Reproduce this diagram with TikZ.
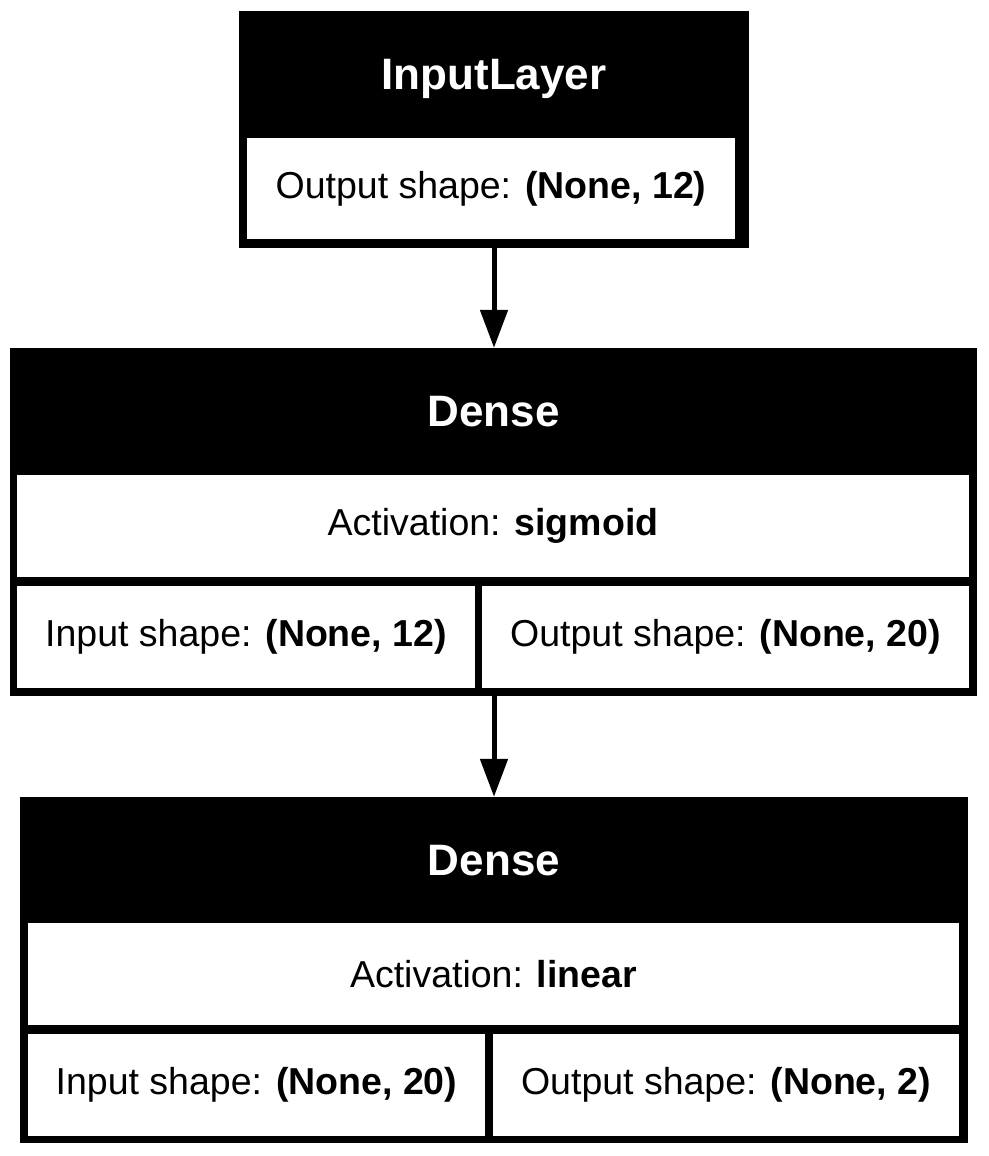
\documentclass[tikz,border=0pt]{standalone}
\usepackage{fontspec}
\setmainfont{Liberation Sans}
\usetikzlibrary{arrows.meta}
\newcommand{\bodysize}{\fontsize{37.5}{45}\selectfont}
\newcommand{\headsize}{\fontsize{44}{52}\selectfont}

\begin{document}
\begin{tikzpicture}[x=1pt, y=-1pt,
    layer/.style={fill=black, inner sep=0pt},
    head/.style={text=white, font=\headsize\bfseries, inner sep=0pt, text depth=0pt},
    cell/.style={fill=white, inner sep=0pt, font=\bodysize},
    flow/.style={-{Triangle[length=38pt, width=27pt]}, line width=5pt}]
    \useasboundingbox (0,0) rectangle (988,1156);

    % InputLayer
    \node[layer, minimum width=510pt, minimum height=237pt] (inp) at (494,129.5) {};
    \node[head] (inphead) at (494,74.5) {InputLayer};
    \node[cell, minimum width=488pt, minimum height=101pt] (inpout) at (491,188.5) {Output shape: \textbf{(None, 12)}};

    % First dense layer
    \node[layer, minimum width=967pt, minimum height=348pt] (dense1) at (493.5,522) {};
    \node[head] (dense1head) at (493.5,411.5) {Dense};
    \node[cell, minimum width=952pt, minimum height=102pt] (dense1act) at (493,526) {Activation: \textbf{sigmoid}};
    \node[cell, minimum width=458pt, minimum height=102pt] (dense1in) at (246,637) {Input shape: \textbf{(None, 12)}};
    \node[cell, minimum width=487pt, minimum height=102pt] (dense1out) at (725.5,637) {Output shape: \textbf{(None, 20)}};

    % Second dense layer
    \node[layer, minimum width=948pt, minimum height=346pt] (dense2) at (494,970) {};
    \node[head] (dense2head) at (494,860) {Dense};
    \node[cell, minimum width=931pt, minimum height=102pt] (dense2act) at (493.5,974) {Activation: \textbf{linear}};
    \node[cell, minimum width=457pt, minimum height=102pt] (dense2in) at (256.5,1085) {Input shape: \textbf{(None, 20)}};
    \node[cell, minimum width=466pt, minimum height=102pt] (dense2out) at (726,1085) {Output shape: \textbf{(None, 2)}};

    % Edges
    \draw[flow] (inp.south) -- (inp.south |- dense1.north);
    \draw[flow] (inp.south |- dense1.south) -- (inp.south |- dense2.north);
\end{tikzpicture}
\end{document}
